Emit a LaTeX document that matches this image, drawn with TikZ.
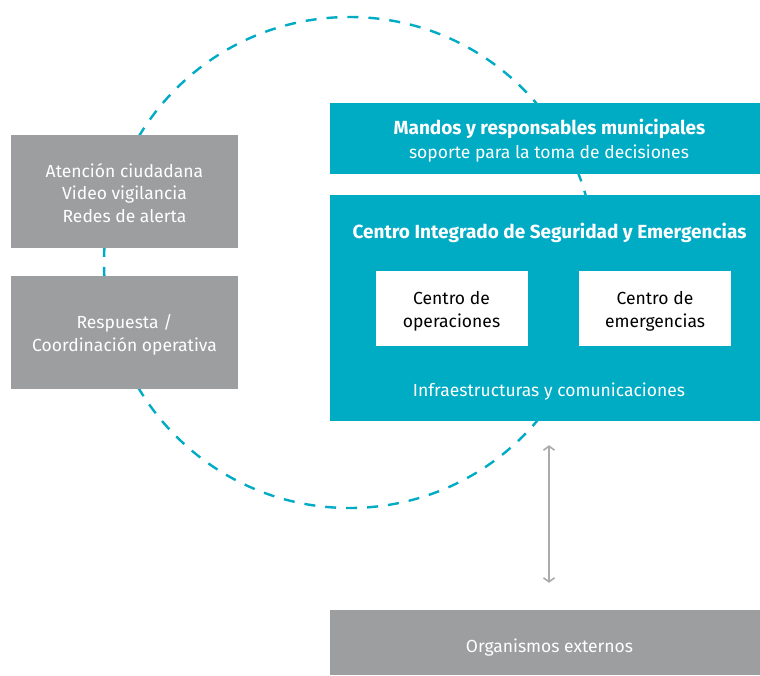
\documentclass[tikz,border=0pt]{standalone}
\usepackage{fontspec}
\setmainfont{Fira Sans}
\usepackage{tikz}
\usetikzlibrary{arrows.meta}
\definecolor{cisteal}{HTML}{00ABC4}
\definecolor{cisgray}{HTML}{9D9EA0}
\definecolor{arrgray}{HTML}{ABABAB}
\tikzset{
  graybox/.style={fill=cisgray, inner sep=0pt},
  tealbox/.style={fill=cisteal, inner sep=0pt},
  whitebox/.style={fill=white, inner sep=0pt, minimum width=152pt, minimum height=75pt},
  wtext/.style={text=white, align=center, font=\fontsize{17.5}{22.5}\selectfont},
  ktext/.style={text=black, align=center, font=\fontsize{17.5}{23}\selectfont},
  btext/.style={text=white, font=\fontsize{19}{22}\selectfont\bfseries},
  ring/.style={cisteal, line width=2.4pt, dash pattern=on 11pt off 10pt},
  dblarrow/.style={arrgray, line width=1.6pt,
    {Straight Barb[length=4pt,width=11pt]}-{Straight Barb[length=4pt,width=11pt]}}
}
\begin{document}
\begin{tikzpicture}[x=1pt,y=-1pt]
  \useasboundingbox (0,0) rectangle (760,675);
  \draw[ring] (349.5,262.5) circle[radius=245.5];
  \node[graybox, minimum width=227pt, minimum height=113pt] (atencion) at (124.5,191.5) {};
  \node[wtext] (atenciontxt) at ([yshift=-1.5pt]atencion)
    {Atención ciudadana\\Video vigilancia\\Redes de alerta};
  \node[graybox, minimum width=227pt, minimum height=113pt] (respuesta) at (124.5,332.5) {};
  \node[wtext] (respuestatxt) at ([yshift=-2.5pt]respuesta)
    {Respuesta /\\Coordinación operativa};
  \node[tealbox, minimum width=430pt, minimum height=71pt] (mandos) at (545,138.5) {};
  \node[btext] (mandostit) at (549.5,129) {Mandos y responsables municipales};
  \node[wtext] (mandossub) at (549,154) {soporte para la toma de decisiones};
  \node[tealbox, minimum width=430pt, minimum height=226pt] (cise) at (545,308) {};
  \node[btext] (cisetit) at (549.5,233) {Centro Integrado de Seguridad y Emergencias};
  \node[whitebox] (operaciones) at (451.5,308.5) {};
  \node[ktext] (operacionestxt) at ([yshift=-3pt]operaciones) {Centro de\\operaciones};
  \node[whitebox] (emergencias) at (655,308.5) {};
  \node[ktext] (emergenciastxt) at ([yshift=-3pt]emergencias) {Centro de\\emergencias};
  \node[wtext] (infra) at (549,392) {Infraestructuras y comunicaciones};
  \node[graybox, minimum width=430pt, minimum height=65pt] (externos) at (545,642.5) {};
  \node[wtext] (externostxt) at ([xshift=4.5pt,yshift=-5.5pt]externos) {Organismos externos};
  \draw[dblarrow] ([xshift=4pt,yshift=-24pt]cise.south) -- ([xshift=4pt,yshift=27pt]externos.north);
\end{tikzpicture}
\end{document}
